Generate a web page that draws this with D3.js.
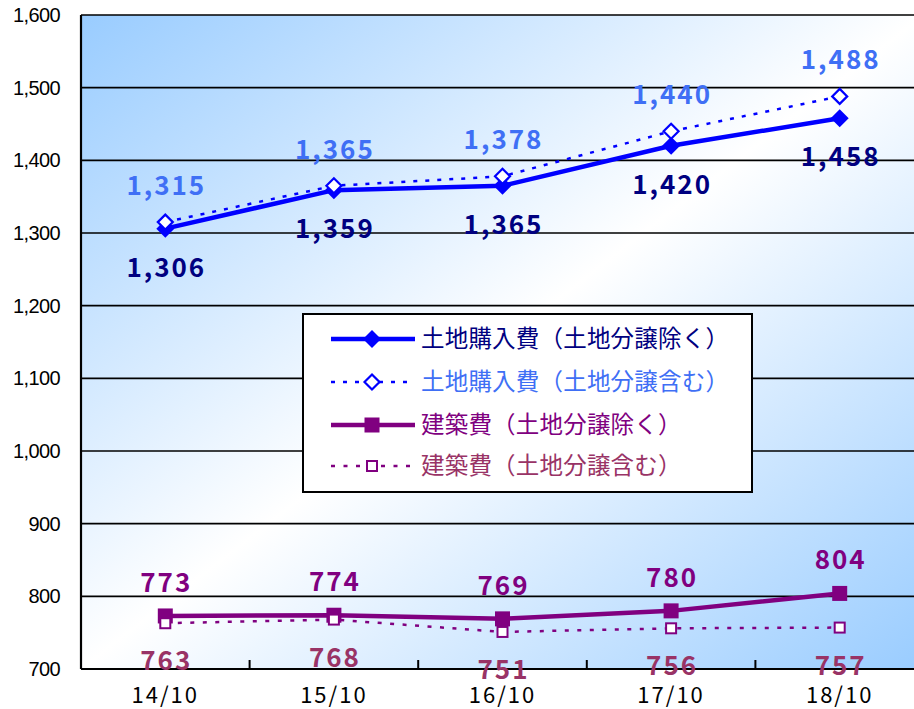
<!DOCTYPE html>
<html>
<head>
<meta charset="utf-8">
<script src="https://cdn.jsdelivr.net/npm/d3@7"></script>
<style>
  body { margin: 0; background: #fff; }
  svg { display: block; }
</style>
</head>
<body>
<div id="chart"></div>
<script>
// Data
const categories = ["14/10", "15/10", "16/10", "17/10", "18/10"];
const landExcl = [1306, 1359, 1365, 1420, 1458];   // 土地購入費(土地分譲除く)
const landIncl = [1315, 1365, 1378, 1440, 1488];   // 土地購入費(土地分譲含む)
const buildExcl = [773, 774, 769, 780, 804];       // 建築費(土地分譲除く)
const buildIncl = [763, 768, 751, 756, 757];       // 建築費(土地分譲含む)
const yTicks = [700, 800, 900, 1000, 1100, 1200, 1300, 1400, 1500, 1600];
const seriesNames = [
  "土地購入費（土地分譲除く）",
  "土地購入費（土地分譲含む）",
  "建築費（土地分譲除く）",
  "建築費（土地分譲含む）"
];

const width = 914, height = 709;
const plot = { left: 81, top: 15, right: 924, bottom: 669 };

const svg = d3.select("#chart").append("svg")
    .attr("width", width)
    .attr("height", height);

// Diagonal gradient background
const grad = svg.append("defs").append("linearGradient")
    .attr("id", "bg")
    .attr("x1", 0).attr("y1", 0)
    .attr("x2", 1).attr("y2", 1);
grad.append("stop").attr("offset", "0%").attr("stop-color", "#99ccff");
grad.append("stop").attr("offset", "50%").attr("stop-color", "#ffffff");
grad.append("stop").attr("offset", "100%").attr("stop-color", "#99ccff");

const x = d3.scaleBand()
    .domain(categories)
    .range([plot.left, plot.right])
    .padding(0);
const y = d3.scaleLinear()
    .domain([700, 1600])
    .range([plot.bottom, plot.top]);
const cx = d => x(d) + x.bandwidth() / 2;

svg.append("rect")
    .attr("x", plot.left)
    .attr("y", plot.top)
    .attr("width", plot.right - plot.left)
    .attr("height", plot.bottom - plot.top)
    .attr("fill", "url(#bg)");

// Gridlines
svg.append("g").selectAll("line")
    .data(yTicks.slice(1))
    .enter().append("line")
    .attr("x1", plot.left)
    .attr("x2", plot.right)
    .attr("y1", d => y(d))
    .attr("y2", d => y(d))
    .attr("stroke", "#000")
    .attr("stroke-width", 1.6);

// Y axis labels
svg.append("g").selectAll("text")
    .data(yTicks)
    .enter().append("text")
    .attr("x", 60)
    .attr("y", d => y(d) + 7)
    .attr("text-anchor", "end")
    .attr("font-family", "Liberation Sans, Arial, sans-serif")
    .attr("font-size", 20)
    .attr("letter-spacing", -0.6)
    .attr("fill", "#000")
    .text(d => d3.format(",")(d));

// Axis lines
svg.append("line")
    .attr("x1", plot.left).attr("x2", plot.left)
    .attr("y1", plot.top).attr("y2", plot.bottom)
    .attr("stroke", "#000").attr("stroke-width", 2.2);
svg.append("line")
    .attr("x1", plot.left).attr("x2", plot.right)
    .attr("y1", plot.bottom).attr("y2", plot.bottom)
    .attr("stroke", "#000").attr("stroke-width", 2.2);

// X ticks (inward, at band edges)
svg.append("g").selectAll("line")
    .data(categories.slice(1))
    .enter().append("line")
    .attr("x1", d => x(d)).attr("x2", d => x(d))
    .attr("y1", plot.bottom - 9).attr("y2", plot.bottom)
    .attr("stroke", "#000").attr("stroke-width", 2);

// X labels
svg.append("g").selectAll("text")
    .data(categories)
    .enter().append("text")
    .attr("x", d => cx(d))
    .attr("y", 703)
    .attr("text-anchor", "middle")
    .attr("font-family", "Noto Sans CJK JP, sans-serif")
    .attr("font-size", 22)
    .attr("letter-spacing", 2)
    .attr("fill", "#000")
    .text(d => d);

const line = d3.line()
    .x((d, i) => cx(categories[i]))
    .y(d => y(d));

const series = [
  { name: seriesNames[0], values: landExcl, color: "#0000ff", dash: null, width: 4.5,
    marker: "diamondSolid", labelColor: "#000080", labelDy: 48 },
  { name: seriesNames[1], values: landIncl, color: "#0000ff", dash: "4,8", width: 2.5,
    marker: "diamondOpen", labelColor: "#3f6ff5", labelDy: -27 },
  { name: seriesNames[2], values: buildExcl, color: "#800080", dash: null, width: 4.5,
    marker: "squareSolid", labelColor: "#800080", labelDy: -24 },
  { name: seriesNames[3], values: buildIncl, color: "#800080", dash: "4,8.5", width: 2.5,
    marker: "squareOpen", labelColor: "#993366", labelDy: 47 }
];

function drawMarker(g, type, px, py, color) {
  if (type === "diamondSolid") {
    g.append("path")
      .attr("d", `M${px},${py - 9}L${px + 9},${py}L${px},${py + 9}L${px - 9},${py}Z`)
      .attr("fill", color);
  } else if (type === "diamondOpen") {
    g.append("path")
      .attr("d", `M${px},${py - 7.5}L${px + 7.5},${py}L${px},${py + 7.5}L${px - 7.5},${py}Z`)
      .attr("fill", "#fff").attr("stroke", color).attr("stroke-width", 2.2);
  } else if (type === "squareSolid") {
    g.append("rect")
      .attr("x", px - 7.5).attr("y", py - 7.5)
      .attr("width", 15).attr("height", 15)
      .attr("fill", color);
  } else {
    g.append("rect")
      .attr("x", px - 5).attr("y", py - 5)
      .attr("width", 10).attr("height", 10)
      .attr("fill", "#fff").attr("stroke", color).attr("stroke-width", 2);
  }
}

// Lines and markers
series.forEach(s => {
  const g = svg.append("g");
  g.append("path")
    .datum(s.values)
    .attr("d", line)
    .attr("fill", "none")
    .attr("stroke", s.color)
    .attr("stroke-width", s.width)
    .attr("stroke-dasharray", s.dash);
  s.values.forEach((v, i) => drawMarker(g, s.marker, cx(categories[i]), y(v), s.color));
});

// Data labels
series.forEach(s => {
  svg.append("g").selectAll("text")
    .data(s.values)
    .enter().append("text")
    .attr("x", (d, i) => cx(categories[i]) + 1)
    .attr("y", d => y(d) + s.labelDy)
    .attr("text-anchor", "middle")
    .attr("font-family", "Noto Sans CJK JP, sans-serif")
    .attr("font-weight", "bold")
    .attr("font-size", 26)
    .attr("letter-spacing", 2)
    .attr("fill", s.labelColor)
    .text(d => d3.format(",")(d));
});

// Legend
const legend = svg.append("g");
legend.append("rect")
    .attr("x", 303).attr("y", 314)
    .attr("width", 449).attr("height", 178)
    .attr("fill", "#fff")
    .attr("stroke", "#000")
    .attr("stroke-width", 2);
const rowY = [339, 382, 425, 466];
series.forEach((s, i) => {
  const ly = rowY[i];
  legend.append("line")
    .attr("x1", 331).attr("x2", 415)
    .attr("y1", ly).attr("y2", ly)
    .attr("stroke", s.color)
    .attr("stroke-width", s.width)
    .attr("stroke-dasharray", s.dash);
  drawMarker(legend, s.marker, 372, ly, s.color);
  legend.append("text")
    .attr("x", 421)
    .attr("y", ly + 8)
    .attr("font-family", "Noto Sans CJK JP, sans-serif")
    .attr("font-size", 23.5)
    .attr("letter-spacing", 0.2)
    .attr("fill", s.labelColor)
    .text(s.name);
});
</script>
</body>
</html>
